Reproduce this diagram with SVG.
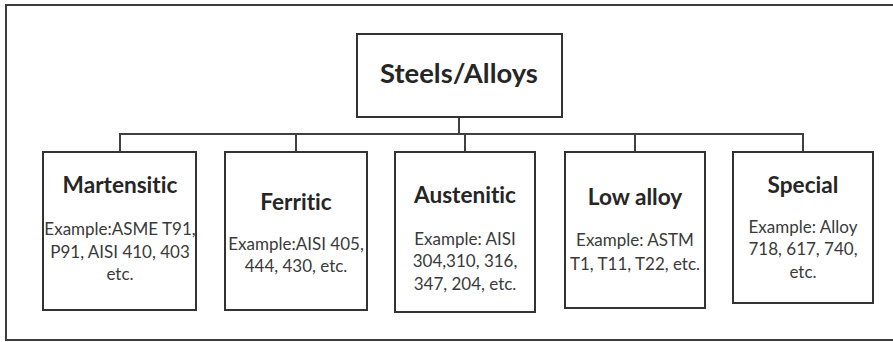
<svg xmlns="http://www.w3.org/2000/svg" width="893" height="342" viewBox="0 0 893 342">
<style>
  .frame { fill: #ffffff; stroke: #3c3c3c; stroke-width: 2; }
  .box { fill: #ffffff; stroke: #333333; stroke-width: 2; }
  .conn { fill: none; stroke: #404040; stroke-width: 2; }
  text { font-variant-ligatures: none; }
  .title { font-family: Lato, "Open Sans", "Liberation Sans", sans-serif; font-weight: bold; font-size: 22.6px; fill: #262626; text-anchor: middle; }
  .root { font-size: 27.4px; }
  .body { font-family: Lato, "Open Sans", "Liberation Sans", sans-serif; font-size: 17px; fill: #3a3a3a; text-anchor: middle; }
</style>
<rect x="0" y="0" width="893" height="342" fill="#ffffff"/>
<rect class="frame" x="6" y="5" width="900" height="335"/>
<g id="connectors">
  <path class="conn" d="M459 117 V134"/>
  <path class="conn" d="M120 152 V134 H803 V152"/>
  <path class="conn" d="M296 134 V152"/>
  <path class="conn" d="M465 134 V152"/>
  <path class="conn" d="M635 134 V152"/>
</g>
<g id="root">
  <rect class="box" x="357" y="34" width="205" height="83"/>
  <text class="title root" x="459" y="83">Steels/Alloys</text>
</g>
<g id="martensitic">
  <rect class="box" x="43" y="152" width="153" height="158"/>
  <text class="title" x="120" y="193">Martensitic</text>
  <text class="body" x="120" y="235">Example:ASME T91,</text>
  <text class="body" x="120" y="257.5">P91, AISI 410, 403</text>
  <text class="body" x="120" y="280">etc.</text>
</g>
<g id="ferritic">
  <rect class="box" x="225" y="152" width="142" height="158"/>
  <text class="title" x="296" y="210">Ferritic</text>
  <text class="body" x="296" y="250">Example:AISI 405,</text>
  <text class="body" x="296" y="272">444, 430, etc.</text>
</g>
<g id="austenitic">
  <rect class="box" x="395" y="152" width="140" height="160"/>
  <text class="title" x="465" y="203">Austenitic</text>
  <text class="body" x="465" y="245">Example: AISI</text>
  <text class="body" x="465" y="267">304,310, 316,</text>
  <text class="body" x="465" y="290">347, 204, etc.</text>
</g>
<g id="lowalloy">
  <rect class="box" x="565" y="152" width="140" height="156"/>
  <text class="title" x="635" y="205">Low alloy</text>
  <text class="body" x="635" y="246">Example: ASTM</text>
  <text class="body" x="635" y="270">T1, T11, T22, etc.</text>
</g>
<g id="special">
  <rect class="box" x="733" y="152" width="140" height="151"/>
  <text class="title" x="803" y="193">Special</text>
  <text class="body" x="803" y="233">Example: Alloy</text>
  <text class="body" x="803" y="255">718, 617, 740,</text>
  <text class="body" x="803" y="278">etc.</text>
</g>
</svg>
